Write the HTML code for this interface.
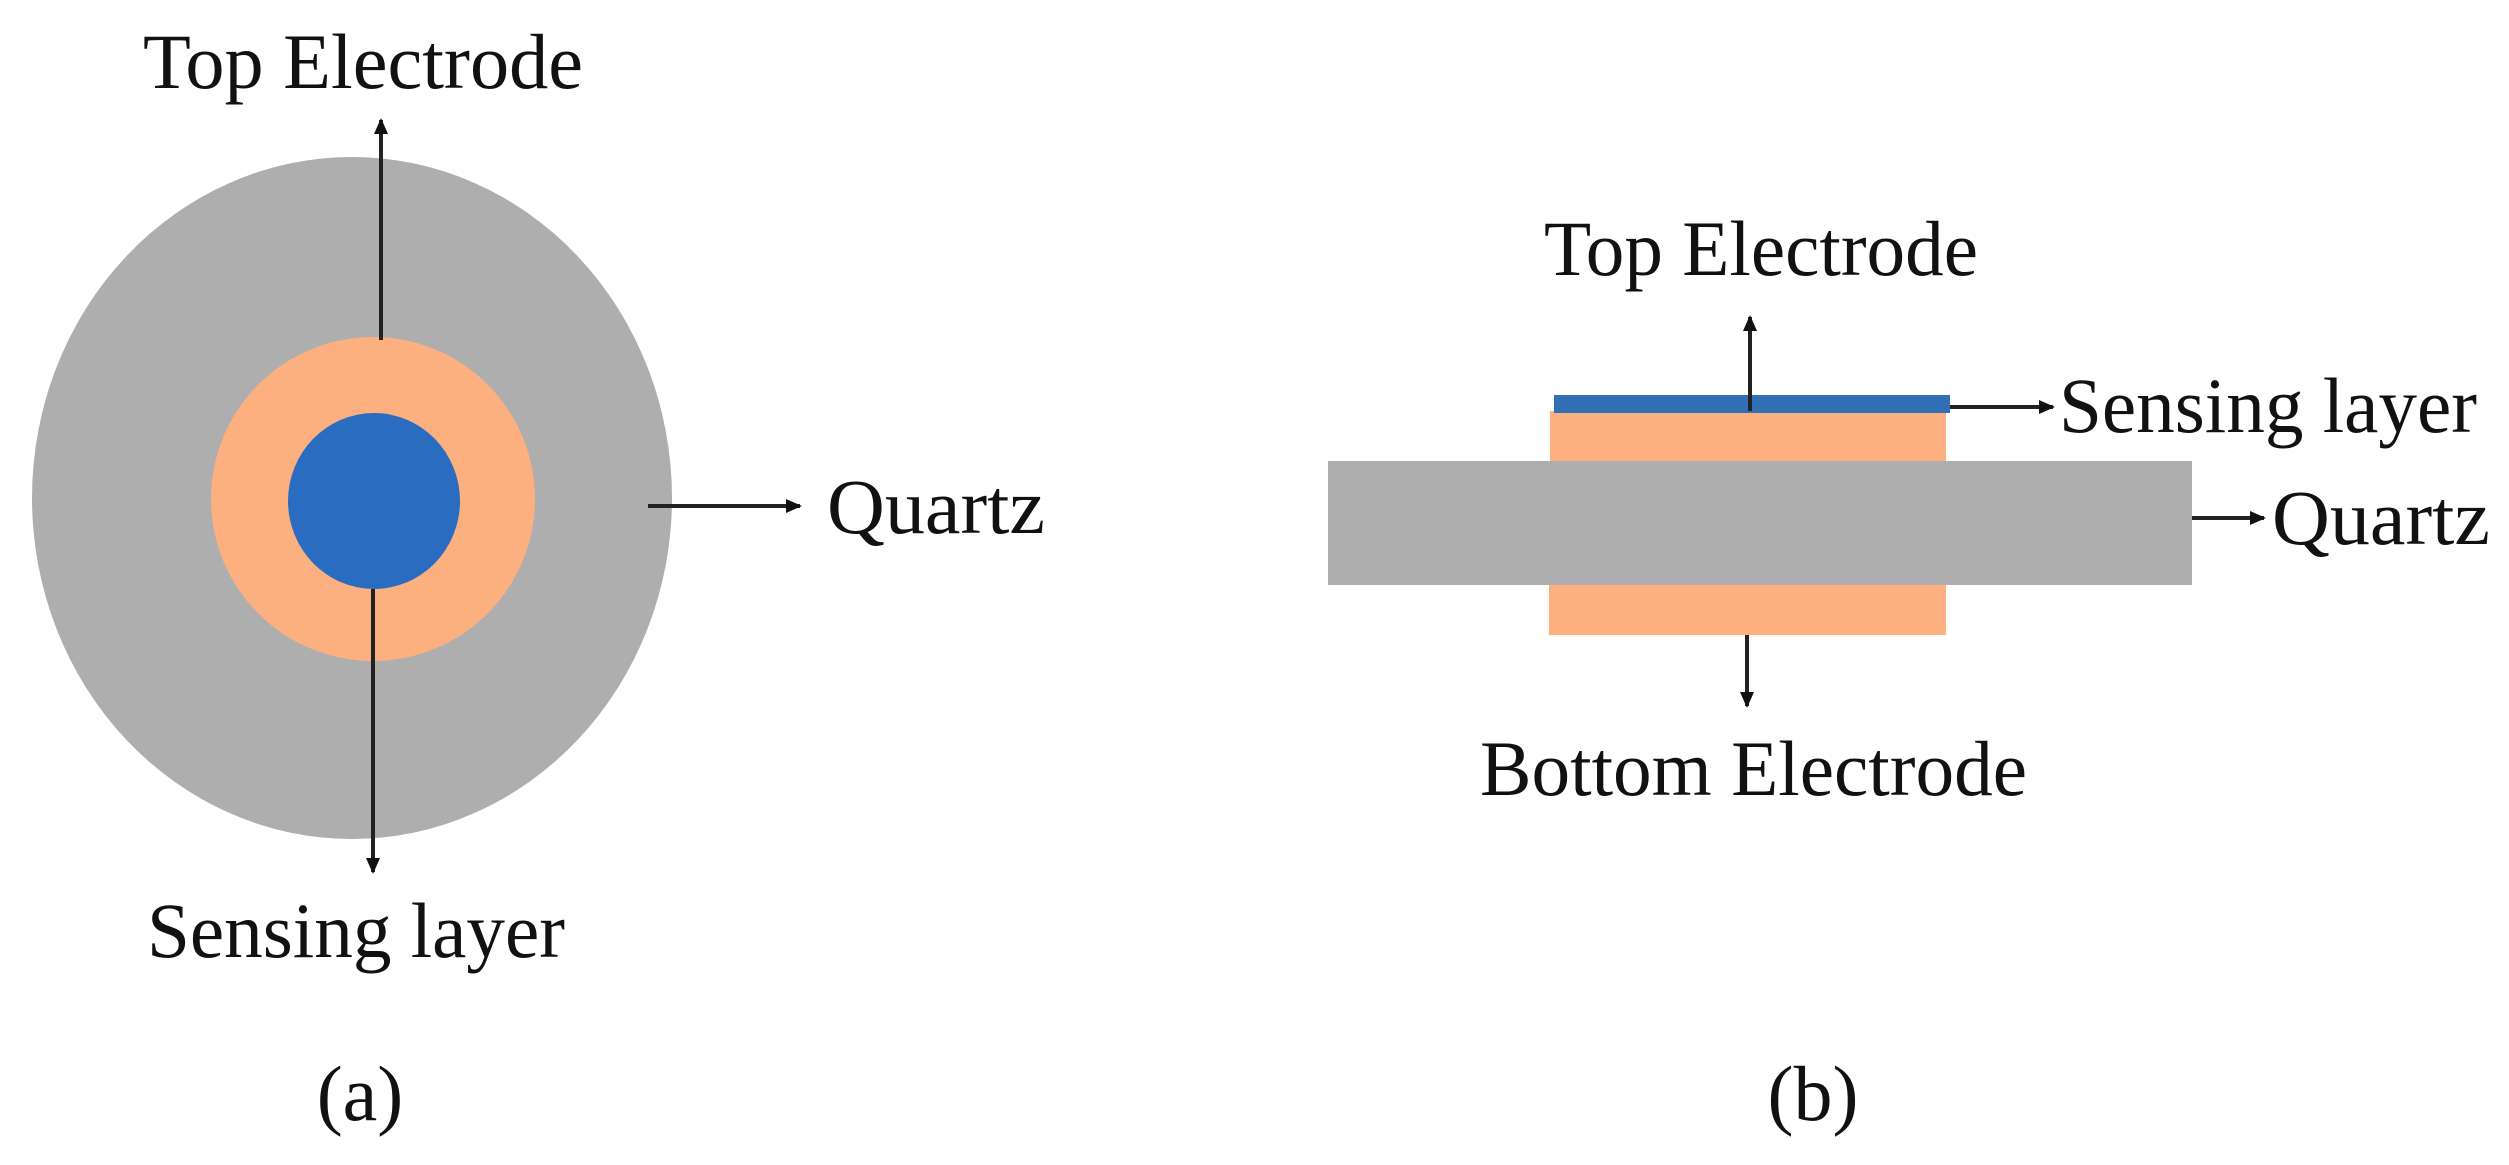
<!DOCTYPE html>
<html><head><meta charset="utf-8"><style>html,body{margin:0;padding:0;background:#fff}svg{display:block}</style></head><body>
<svg width="2509" height="1165" viewBox="0 0 2509 1165" xmlns="http://www.w3.org/2000/svg" font-family="Liberation Serif, serif" font-size="78" fill="#111">
<defs><marker id="a" markerWidth="10" markerHeight="10" refX="8" refY="5" orient="auto" markerUnits="userSpaceOnUse"><path d="M0,0 L10,5 L0,10 z" fill="#111"/></marker>
<marker id="b" markerWidth="16" markerHeight="14" refX="14" refY="7" orient="auto" markerUnits="userSpaceOnUse"><path d="M0,0 L16,7 L0,14 z" fill="#111"/></marker></defs>
<rect width="2509" height="1165" fill="#fff"/>
<!-- (a) -->
<ellipse cx="352" cy="498" rx="320" ry="341" fill="#afaeae"/>
<circle cx="373" cy="499" r="162" fill="#fdb07f"/>
<ellipse cx="374" cy="501" rx="86" ry="88" fill="#2a6cc0"/>
<line x1="381" y1="340" x2="381" y2="120" stroke="#222" stroke-width="4" marker-end="url(#b)"/>
<line x1="373" y1="589" x2="373" y2="872" stroke="#222" stroke-width="4" marker-end="url(#b)"/>
<line x1="648" y1="506" x2="800" y2="506" stroke="#222" stroke-width="4" marker-end="url(#b)"/>
<text x="143" y="88" textLength="440" lengthAdjust="spacingAndGlyphs">Top Electrode</text>
<text x="827" y="533" textLength="218" lengthAdjust="spacingAndGlyphs">Quartz</text>
<text x="147" y="957" textLength="418" lengthAdjust="spacingAndGlyphs">Sensing layer</text>
<text x="360" y="1120" text-anchor="middle">(a)</text>
<!-- (b) -->
<rect x="1550" y="411" width="396" height="54" fill="#fdb07f"/>
<rect x="1549" y="580" width="397" height="55" fill="#fdb07f"/>
<rect x="1328" y="461" width="864" height="124" fill="#afaeae"/>
<rect x="1554" y="395" width="396" height="18" fill="#3170b4"/>
<line x1="1750" y1="411" x2="1750" y2="317" stroke="#222" stroke-width="4" marker-end="url(#b)"/>
<line x1="1950" y1="407" x2="2053" y2="407" stroke="#222" stroke-width="4" marker-end="url(#b)"/>
<line x1="2192" y1="518" x2="2264" y2="518" stroke="#222" stroke-width="4" marker-end="url(#b)"/>
<line x1="1747" y1="635" x2="1747" y2="706" stroke="#222" stroke-width="4" marker-end="url(#b)"/>
<text x="1544" y="275" textLength="434" lengthAdjust="spacingAndGlyphs">Top Electrode</text>
<text x="2059" y="432" textLength="418" lengthAdjust="spacingAndGlyphs">Sensing layer</text>
<text x="2272" y="544" textLength="218" lengthAdjust="spacingAndGlyphs">Quartz</text>
<text x="1480" y="795" textLength="547" lengthAdjust="spacingAndGlyphs">Bottom Electrode</text>
<text x="1813" y="1120" text-anchor="middle">(b)</text>
</svg>
</body></html>
